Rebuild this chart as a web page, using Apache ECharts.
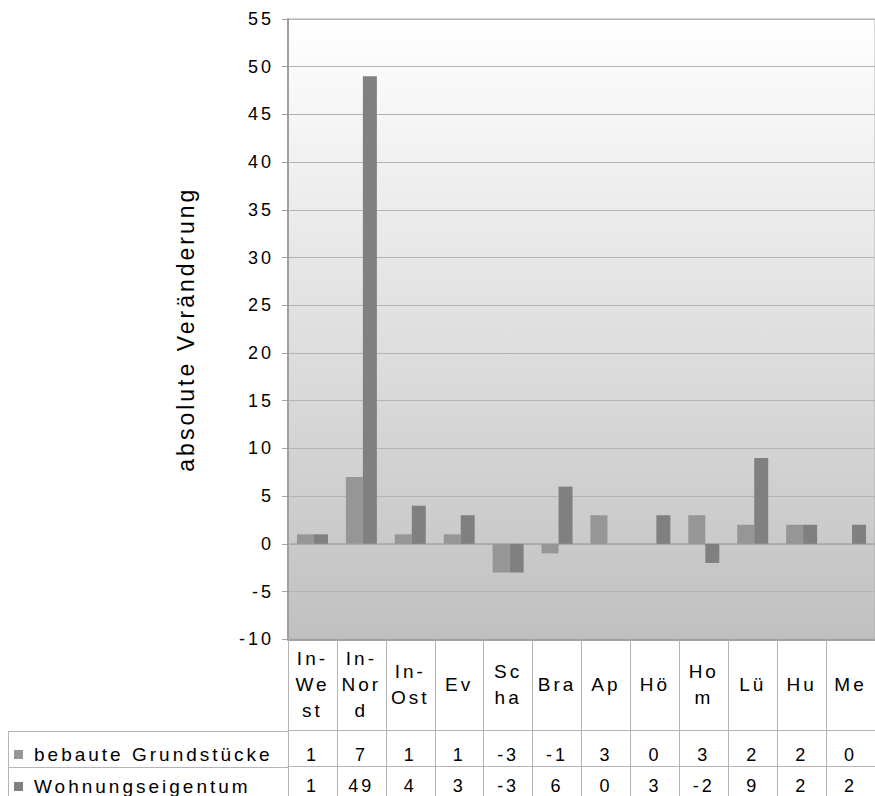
<!DOCTYPE html>
<html>
<head>
<meta charset="utf-8">
<script src="https://cdn.jsdelivr.net/npm/echarts@6/dist/echarts.min.js"></script>
<style>
  html, body { margin: 0; padding: 0; background: #ffffff; }
  #chart { width: 875px; height: 796px; }
  /* spaced-out lettering of the chart texts */
  #chart text { letter-spacing: 3px; }
</style>
</head>
<body>
<div id="chart"></div>
<script>
// District abbreviations, wrapped as they appear in the table header row
const categories = ['In-\nWe\nst', 'In-\nNor\nd', 'In-\nOst', 'Ev', 'Sc\nha', 'Bra', 'Ap', 'Hö', 'Ho\nm', 'Lü', 'Hu', 'Me'];

// Series names
const nameBebaut = 'bebaute Grundstücke';
const nameWohnung = 'Wohnungseigentum';

// Absolute change per district
const bebauteGrundstuecke = [1, 7, 1, 1, -3, -1, 3, 0, 3, 2, 2, 0];
const wohnungseigentum = [1, 49, 4, 3, -3, 6, 0, 3, -2, 9, 2, 2];

// Value axis range
const yMin = -10;
const yMax = 55;
const yStep = 5;

const FONT = 'Liberation Sans';
const LINE = '#b4b4b4';

const chart = echarts.init(document.getElementById('chart'), null, { renderer: 'svg' });

// one legend entry per table row
function legendRow(name, top) {
  return {
    left: 14,
    top: top,
    padding: 0,
    icon: 'rect',
    itemWidth: 9,
    itemHeight: 9,
    selectedMode: false,
    textStyle: { fontFamily: FONT, fontSize: 19, lineHeight: 19, color: '#000000', padding: [0, 0, 0, 6] },
    data: [name]
  };
}

chart.setOption({
  animation: false,
  textStyle: { fontFamily: FONT, color: '#000000' },
  grid: {
    left: 288,
    top: 19,
    width: 598.8,
    height: 620.3,
    show: true,
    borderColor: '#b0b0b0',
    borderWidth: 1,
    backgroundColor: {
      type: 'linear', x: 0, y: 0, x2: 0, y2: 1,
      colorStops: [
        { offset: 0, color: '#ffffff' },
        { offset: 1, color: '#c0c0c0' }
      ]
    }
  },
  legend: [legendRow(nameBebaut, 745), legendRow(nameWohnung, 777)],
  xAxis: [
    {
      // header row of the data table
      type: 'category',
      data: categories,
      position: 'bottom',
      axisLine: { onZero: false, lineStyle: { color: '#a0a0a0', width: 2 } },
      axisTick: { show: true, length: 160, lineStyle: { color: LINE, width: 1 } },
      axisLabel: {
        interval: 0, margin: 45, verticalAlign: 'middle',
        fontFamily: FONT, fontSize: 19, lineHeight: 26, color: '#000000'
      },
      splitLine: { show: false }
    },
    {
      // first value row
      type: 'category',
      data: categories,
      position: 'bottom',
      offset: 91,
      axisLine: { onZero: false, lineStyle: { color: LINE, width: 1 } },
      axisTick: { show: false },
      axisLabel: {
        interval: 0, margin: 25, verticalAlign: 'middle',
        fontFamily: FONT, fontSize: 18, color: '#000000',
        formatter: (v, i) => String(bebauteGrundstuecke[i])
      }
    },
    {
      // second value row
      type: 'category',
      data: categories,
      position: 'bottom',
      offset: 127,
      axisLine: { onZero: false, lineStyle: { color: LINE, width: 1 } },
      axisTick: { show: false },
      axisLabel: {
        interval: 0, margin: 20, verticalAlign: 'middle',
        fontFamily: FONT, fontSize: 18, color: '#000000',
        formatter: (v, i) => String(wohnungseigentum[i])
      }
    },
    {
      // horizontal line through zero
      type: 'category',
      data: categories,
      position: 'bottom',
      axisLine: { show: true, onZero: true, lineStyle: { color: '#a6a6a6', width: 1.5 } },
      axisTick: { show: false },
      axisLabel: { show: false }
    }
  ],
  yAxis: {
    type: 'value',
    min: yMin,
    max: yMax,
    interval: yStep,
    name: 'absolute Veränderung',
    nameLocation: 'middle',
    nameRotate: 90,
    nameGap: 91,
    nameTextStyle: { fontFamily: FONT, fontSize: 23, color: '#000000' },
    axisLine: { show: true, lineStyle: { color: '#a0a0a0', width: 2 } },
    axisTick: { show: true, length: 6, lineStyle: { color: '#a0a0a0', width: 1 } },
    axisLabel: { margin: 14, fontFamily: FONT, fontSize: 18, color: '#000000' },
    splitLine: { show: true, lineStyle: { color: LINE, width: 1 } }
  },
  series: [
    {
      name: nameBebaut,
      type: 'bar',
      xAxisIndex: 0,
      data: bebauteGrundstuecke,
      barWidth: 17,
      barGap: '0%',
      itemStyle: { color: '#969696' }
    },
    {
      name: nameWohnung,
      type: 'bar',
      xAxisIndex: 0,
      data: wohnungseigentum,
      barWidth: 14,
      barGap: '0%',
      itemStyle: { color: '#808080' }
    }
  ],
  graphic: [
    // left part of the data table frame (legend column)
    { type: 'line', shape: { x1: 8, y1: 731.5, x2: 288, y2: 731.5 }, style: { stroke: LINE, lineWidth: 1 } },
    { type: 'line', shape: { x1: 8, y1: 767.5, x2: 288, y2: 767.5 }, style: { stroke: LINE, lineWidth: 1 } },
    { type: 'line', shape: { x1: 8.5, y1: 731, x2: 8.5, y2: 796 }, style: { stroke: LINE, lineWidth: 1 } }
  ]
});
</script>
</body>
</html>
